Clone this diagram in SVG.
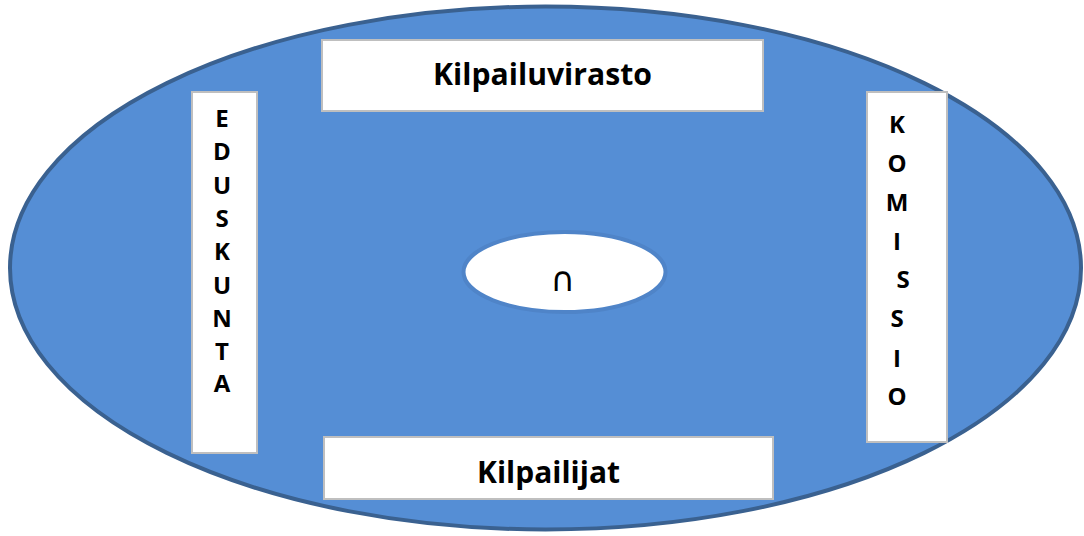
<svg xmlns="http://www.w3.org/2000/svg" width="1084" height="536" viewBox="0 0 1084 536">
  <style>
    .box { fill: #FFFFFF; stroke: #BFBFBF; stroke-width: 2; }
    .lbl { font-family: "Open Sans", "Liberation Sans", sans-serif; font-weight: bold; fill: #000000; text-anchor: middle; }
    .big { font-size: 31px; }
    .v { font-size: 24px; }
  </style>
  <rect width="1084" height="536" fill="#FFFFFF"/>
  <g id="outer">
    <ellipse cx="545.5" cy="268" rx="535.5" ry="261.5" fill="#558ED5" stroke="#3A6190" stroke-width="4"/>
  </g>
  <g id="connectors"></g>
  <g id="kilpailuvirasto">
    <rect class="box" x="322" y="40" width="441" height="71"/>
    <text class="lbl big" x="542.5" y="85" textLength="219" lengthAdjust="spacingAndGlyphs">Kilpailuvirasto</text>
  </g>
  <g id="kilpailijat">
    <rect class="box" x="324" y="437" width="449" height="62"/>
    <text class="lbl big" x="548.5" y="483" textLength="143" lengthAdjust="spacingAndGlyphs">Kilpailijat</text>
  </g>
  <g id="eduskunta">
    <rect class="box" x="192" y="92" width="65" height="361"/>
    <text class="lbl v" x="222" y="127">E</text>
    <text class="lbl v" x="222" y="160.3">D</text>
    <text class="lbl v" x="222" y="193.7">U</text>
    <text class="lbl v" x="222" y="227">S</text>
    <text class="lbl v" x="222" y="260.3">K</text>
    <text class="lbl v" x="222" y="293.7">U</text>
    <text class="lbl v" x="222" y="327">N</text>
    <text class="lbl v" x="222" y="360.3">T</text>
    <text class="lbl v" x="222" y="392">A</text>
  </g>
  <g id="komissio">
    <rect class="box" x="867" y="92" width="80" height="350"/>
    <text class="lbl v" x="897" y="133">K</text>
    <text class="lbl v" x="897" y="172">O</text>
    <text class="lbl v" x="897" y="211">M</text>
    <text class="lbl v" x="897" y="250">I</text>
    <text class="lbl v" x="903" y="288">S</text>
    <text class="lbl v" x="897" y="327">S</text>
    <text class="lbl v" x="897" y="367">I</text>
    <text class="lbl v" x="897" y="405">O</text>
  </g>
  <g id="center">
    <ellipse cx="564.5" cy="272" rx="101" ry="40" fill="#FFFFFF" stroke="#4F84C8" stroke-width="4"/>
    <text x="563" y="291" font-family="DejaVu Sans, sans-serif" font-size="34" text-anchor="middle" fill="#000000">∩</text>
  </g>
</svg>
